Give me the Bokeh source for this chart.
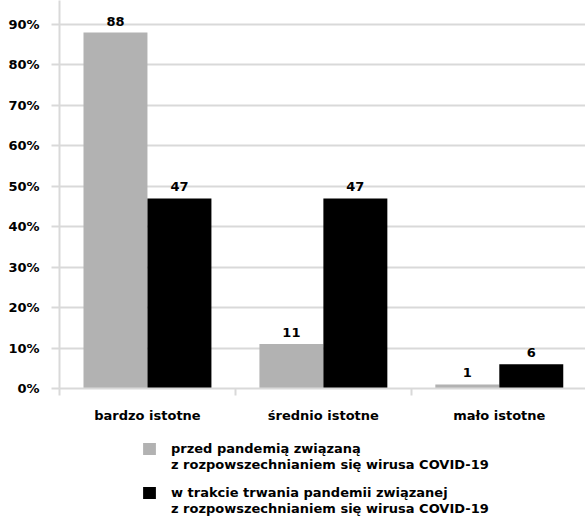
from bokeh.plotting import figure
from bokeh.layouts import column
from bokeh.models import ColumnDataSource, FixedTicker, Legend, LegendItem, NumeralTickFormatter, Range1d
from bokeh.core.properties import value
from bokeh.embed import file_html
from bokeh.resources import INLINE

categories = ["bardzo istotne", "średnio istotne", "mało istotne"]
series_lines = [
    ["przed pandemią związaną", "z rozpowszechnianiem się wirusa COVID-19"],
    ["w trakcie trwania pandemii związanej", "z rozpowszechnianiem się wirusa COVID-19"],
]
before = [88, 11, 1]
during = [47, 47, 6]
y_ticks = [0, 10, 20, 30, 40, 50, 60, 70, 80, 90]

FONT = "DejaVu Sans"
GRAY = "#b2b2b2"
GRID = "#d9d9d9"

centers = [i + 0.5 for i in range(len(categories))]
bw = 0.3636
src1 = ColumnDataSource(dict(x=[c - bw / 2 for c in centers], top=before, lbl=[str(v) for v in before]))
src2 = ColumnDataSource(dict(x=[c + bw / 2 for c in centers], top=during, lbl=[str(v) for v in during]))

p = figure(width=585, height=430, output_backend="svg", toolbar_location=None,
           x_range=Range1d(0, 2.99), y_range=Range1d(0, 95.93),
           min_border_left=59, min_border_right=0, min_border_top=0, min_border_bottom=42)
p.outline_line_color = None

r1 = p.vbar(x="x", top="top", width=bw, source=src1, fill_color=GRAY, line_color=None)
r2 = p.vbar(x="x", top="top", width=bw, source=src2, fill_color="black", line_color=None)

for s in (src1, src2):
    p.text(x="x", y="top", text="lbl", source=s, text_align="center", text_baseline="bottom",
           y_offset=-7, text_font=value(FONT), text_font_style="bold", text_font_size="13px",
           text_color="black")

# y axis
p.yaxis.ticker = FixedTicker(ticks=y_ticks)
p.yaxis.formatter = NumeralTickFormatter(format="0")
p.yaxis.major_label_overrides = {t: f"{t}%" for t in y_ticks}
p.yaxis.axis_line_color = GRID
p.yaxis.axis_line_width = 2
p.yaxis.major_tick_line_color = GRID
p.yaxis.major_tick_line_width = 2
p.yaxis.major_tick_out = 8
p.yaxis.major_tick_in = 0
p.yaxis.minor_tick_line_color = None
p.yaxis.major_label_standoff = 12
p.yaxis.major_label_text_font = FONT
p.yaxis.major_label_text_font_style = "bold"
p.yaxis.major_label_text_font_size = "13px"
p.yaxis.major_label_text_color = "black"

# x axis
p.xaxis.ticker = FixedTicker(ticks=centers, minor_ticks=[0, 1, 2, 3])
p.xaxis.major_label_overrides = {c: n for c, n in zip(centers, categories)}
p.xaxis.axis_line_color = GRID
p.xaxis.axis_line_width = 2
p.xaxis.major_tick_line_color = None
p.xaxis.minor_tick_line_color = GRID
p.xaxis.minor_tick_line_width = 2
p.xaxis.minor_tick_out = 7
p.xaxis.minor_tick_in = 0
p.xaxis.major_label_standoff = 12
p.xaxis.major_label_text_font = FONT
p.xaxis.major_label_text_font_style = "bold"
p.xaxis.major_label_text_font_size = "13px"
p.xaxis.major_label_text_color = "black"

p.xgrid.grid_line_color = None
p.ygrid.grid_line_color = GRID
p.ygrid.grid_line_width = 2

# legend figure (below the chart)
lf = figure(width=585, height=95, output_backend="svg", toolbar_location=None,
            x_range=Range1d(0, 1), y_range=Range1d(0, 1),
            min_border_left=59, min_border_top=0, min_border_right=0, min_border_bottom=0)
lf.axis.visible = False
lf.grid.visible = False
lf.outline_line_color = None
dummy = ColumnDataSource(dict(x=[5], top=[5]))
lr1 = lf.vbar(x="x", top="top", width=0.1, source=dummy, fill_color=GRAY, line_color=None)
lr2 = lf.vbar(x="x", top="top", width=0.1, source=dummy, fill_color="black", line_color=None)
blank = lf.vbar(x="x", top="top", width=0.1, source=dummy, fill_alpha=0, line_color=None)

for rend, lines, loc in ((lr1, series_lines[0], (82, 53)), (lr2, series_lines[1], (82, 9))):
    lg = Legend(items=[LegendItem(label=lines[0], renderers=[rend]),
                       LegendItem(label=lines[1], renderers=[blank])],
                location=loc, orientation="vertical",
                glyph_width=16, glyph_height=15, label_standoff=14, spacing=0,
                padding=0, margin=0, border_line_color=None, background_fill_alpha=0,
                label_text_font=FONT, label_text_font_style="bold", label_text_font_size="13px",
                label_text_color="black", label_height=16)
    lf.add_layout(lg, "center")

open("out.html", "w").write(file_html(column(p, lf, spacing=0), INLINE))
